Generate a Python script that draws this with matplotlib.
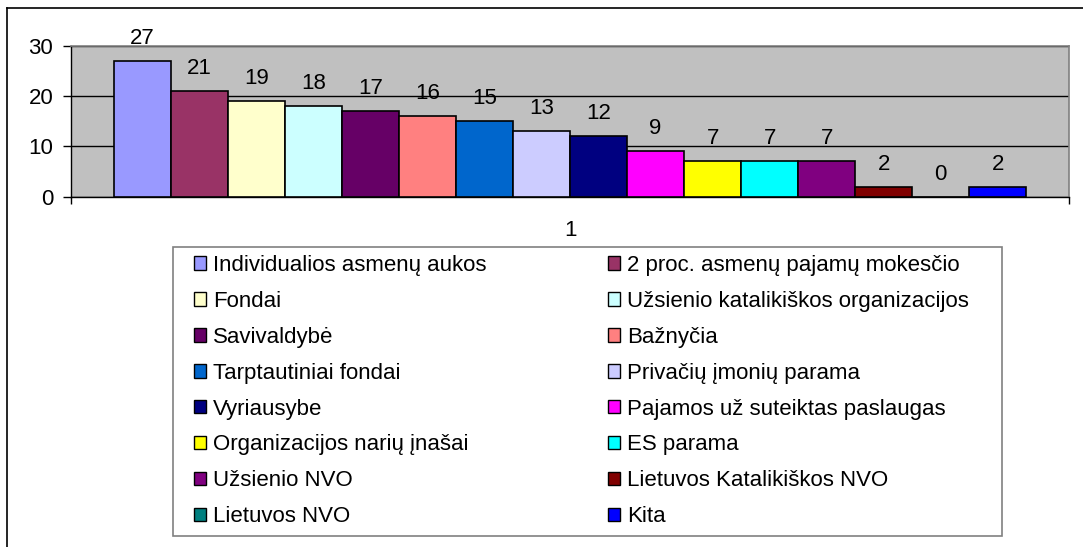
import matplotlib
matplotlib.use("Agg")
import matplotlib.pyplot as plt
from matplotlib.patches import Patch, Rectangle
from matplotlib.lines import Line2D

plt.rcParams['font.family'] = ['Liberation Sans', 'DejaVu Sans']

category = ["1"]
series_names = [
    "Individualios asmenų aukos", "2 proc. asmenų pajamų mokesčio",
    "Fondai", "Užsienio katalikiškos organizacijos",
    "Savivaldybė", "Bažnyčia",
    "Tarptautiniai fondai", "Privačių įmonių parama",
    "Vyriausybe", "Pajamos už suteiktas paslaugas",
    "Organizacijos narių įnašai", "ES parama",
    "Užsienio NVO", "Lietuvos Katalikiškos NVO",
    "Lietuvos NVO", "Kita",
]
values = [27, 21, 19, 18, 17, 16, 15, 13, 12, 9, 7, 7, 7, 2, 0, 2]
colors = ["#9999FF", "#993366", "#FFFFCC", "#CCFFFF", "#660066", "#FF8080",
          "#0066CC", "#CCCCFF", "#000080", "#FF00FF", "#FFFF00", "#00FFFF",
          "#800080", "#800000", "#008080", "#0000FF"]
yticks = [0, 10, 20, 30]

W, H = 1083, 547
fig = plt.figure(figsize=(W / 100, H / 100), dpi=100)
fs = 16

def fx(px):
    return px / W

def fy(py):
    return 1 - py / H

# axes (plot area)
left, right, top, bottom = 71, 1069, 45.7, 196.7
ax = fig.add_axes([fx(left), fy(bottom), fx(right - left), (bottom - top) / H])
ax.set_facecolor("#C0C0C0")

n = len(values)
bw = 1.0
for i, (v, c) in enumerate(zip(values, colors)):
    x = (i - (n - 1) / 2) * bw
    ax.bar(x, v, width=bw, color=c, edgecolor="black", linewidth=1.2, zorder=3)
    ax.annotate(str(v), xy=(x, v), xytext=(0, 17), textcoords="offset pixels",
                ha="center", va="baseline", fontsize=fs, zorder=4)

half = n / 2 * bw + 0.75 * bw
ax.set_xlim(-half, half)
ax.set_ylim(0, 30)
ax.set_yticks(yticks)
ax.set_yticklabels([str(t) for t in yticks], fontsize=fs)
ax.tick_params(axis="y", length=5.8, width=1, pad=7, direction="out", colors="black")
ax.set_xticks([-half, half])
ax.set_xticklabels(["", ""])
ax.tick_params(axis="x", which="major", length=5, width=1, direction="out")
ax.set_xticks([0], minor=True)
ax.set_xticklabels(category, minor=True, fontsize=fs)
ax.tick_params(axis="x", which="minor", length=0, pad=17)

ax.yaxis.grid(True, color="black", linewidth=1)
ax.set_axisbelow(True)
for s in ["left", "bottom"]:
    ax.spines[s].set_color("black")
    ax.spines[s].set_linewidth(1)
for s in ["top", "right"]:
    ax.spines[s].set_color("#808080")
    ax.spines[s].set_linewidth(1.2)

# legend frame
fig.add_artist(Rectangle((fx(173), fy(536)), fx(1002 - 173), (536 - 247) / H,
                         transform=fig.transFigure, facecolor="white",
                         edgecolor="#808080", linewidth=1.2, zorder=0))

handles = [Patch(facecolor=c, edgecolor="black", linewidth=1.0) for c in colors]
common = dict(frameon=False, fontsize=fs, handlelength=0.55, handleheight=0.55,
              handletextpad=0.3, labelspacing=0.67, borderpad=0, borderaxespad=0,
              loc="upper left")
leg1 = fig.legend(handles[0::2], series_names[0::2],
                  bbox_to_anchor=(fx(194), fy(255)), **common)
leg2 = fig.legend(handles[1::2], series_names[1::2],
                  bbox_to_anchor=(fx(608), fy(255)), **common)

# outer chart border (top and left visible)
fig.add_artist(Line2D([fx(7), fx(7)], [fy(8), 0], transform=fig.transFigure,
                      color="black", linewidth=1.2))
fig.add_artist(Line2D([fx(7), 1], [fy(8), fy(8)], transform=fig.transFigure,
                      color="black", linewidth=1.2))

fig.savefig("out.png", dpi=100)
